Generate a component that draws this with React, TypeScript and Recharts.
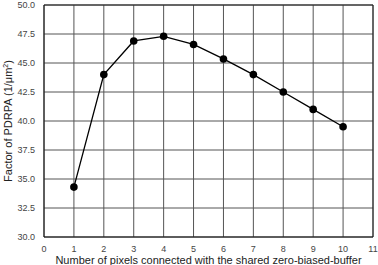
import { LineChart, Line, XAxis, YAxis, CartesianGrid, ReferenceLine } from "recharts";

const pixels = [1, 2, 3, 4, 5, 6, 7, 8, 9, 10];
const factor = [34.3, 44.0, 46.9, 47.3, 46.6, 45.35, 44.0, 42.5, 41.0, 39.5];
const xTicks = [0, 1, 2, 3, 4, 5, 6, 7, 8, 9, 10, 11];
const yTicks = [30, 32.5, 35, 37.5, 40, 42.5, 45, 47.5, 50];

const data = pixels.map((p, i) => ({ x: p, y: factor[i] }));

const font = "'Liberation Sans', Arial, sans-serif";

function YLabel({ viewBox }: any) {
  const cx = 12;
  const cy = viewBox.y + viewBox.height / 2;
  return (
    <text
      x={cx}
      y={cy}
      transform={`rotate(-90 ${cx} ${cy})`}
      textAnchor="middle"
      fontSize={11}
      fill="#222"
      fontFamily={font}
    >
      Factor of PDRPA (1/μm
      <tspan dy={-4} fontSize={7}>2</tspan>
      <tspan dy={4}>)</tspan>
    </text>
  );
}

function XLabel({ viewBox }: any) {
  const cx = viewBox.x + viewBox.width / 2;
  return (
    <text x={cx} y={263.5} textAnchor="middle" fontSize={11} fill="#222" fontFamily={font}>
      Number of pixels connected with the shared zero-biased-buffer
    </text>
  );
}

export default function App() {
  return (
    <div style={{ position: "absolute", left: 0, top: 0, width: 378, height: 265, background: "#fff" }}>
      <LineChart width={378} height={265} data={data} margin={{ top: 5, right: 5, bottom: 0, left: 0 }}>
        <CartesianGrid stroke="#555" strokeWidth={1} horizontalValues={yTicks} verticalValues={xTicks} />
        <ReferenceLine y={50} stroke="#222" strokeWidth={1} />
        <ReferenceLine x={11} stroke="#222" strokeWidth={1} />
        <XAxis
          dataKey="x"
          type="number"
          domain={[0, 11]}
          ticks={xTicks}
          interval={0}
          height={28}
          stroke="#111"
          tickLine={false}
          tick={{ fontSize: 9, fill: "#444", fontFamily: font }}
          tickMargin={3}
          label={<XLabel />}
        />
        <YAxis
          type="number"
          domain={[30, 50]}
          ticks={yTicks}
          interval={0}
          width={44}
          stroke="#111"
          tickLine={false}
          tickFormatter={(v: number) => v.toFixed(1)}
          tick={{ fontSize: 9, fill: "#444", fontFamily: font }}
          tickMargin={3}
          label={<YLabel />}
        />
        <Line
          dataKey="y"
          stroke="#000"
          strokeWidth={1.3}
          dot={{ r: 3.8, fill: "#000", stroke: "#000", strokeWidth: 0 }}
          isAnimationActive={false}
        />
      </LineChart>
    </div>
  );
}
